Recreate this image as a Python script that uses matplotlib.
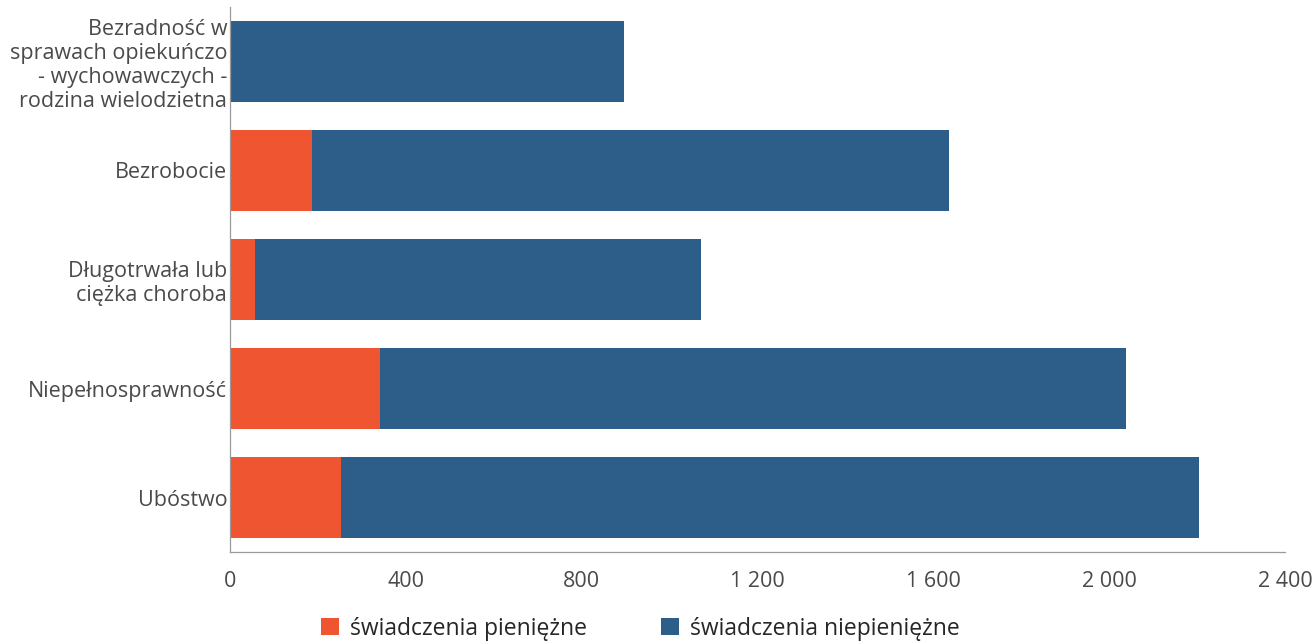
import matplotlib.pyplot as plt
import numpy as np

categories = ["Ubóstwo", "Niepełnosprawność", "Długotrwała lub\nciężka choroba",
              "Bezrobocie", "Bezradność w\nsprawach opiekuńczo\n- wychowawczych -\nrodzina wielodzietna"]
pieniezne = [252, 342, 57, 187, 0]
niepieniezne = [1953, 1697, 1014, 1449, 897]
ticks = [0, 400, 800, 1200, 1600, 2000, 2400]
tick_labels = ["0", "400", "800", "1 200", "1 600", "2 000", "2 400"]

plt.rcParams['font.family'] = ['Open Sans', 'DejaVu Sans']
text_color = "#4a4a4a"
orange = "#ee5530"
blue = "#2d5e8a"

fig = plt.figure(figsize=(13.15, 6.42), dpi=100)
ax = fig.add_axes([230 / 1315, 90 / 642, 1055 / 1315, 545 / 642])

y = np.arange(len(categories))
ax.barh(y, pieniezne, height=0.75, color=orange, label="świadczenia pieniężne")
ax.barh(y, niepieniezne, left=pieniezne, height=0.75, color=blue, label="świadczenia niepieniężne")

ax.set_xlim(0, 2400)
ax.set_ylim(-0.5, 4.5)
ax.set_yticks(y)
ax.set_yticklabels(categories, fontsize=15.5, color=text_color, linespacing=1.2)
ax.set_xticks(ticks)
ax.set_xticklabels(tick_labels, fontsize=15.5, color=text_color)
ax.tick_params(axis="both", length=0)
ax.tick_params(axis="x", pad=14)
ax.tick_params(axis="y", pad=2)
for s in ["top", "right"]:
    ax.spines[s].set_visible(False)
for s in ["left", "bottom"]:
    ax.spines[s].set_color("#9a9a9a")
    ax.spines[s].set_linewidth(0.9)

fig.legend(loc="lower center", bbox_to_anchor=(0.487, -0.03), ncol=2, frameon=False,
           fontsize=16.5, handlelength=0.8, handleheight=0.8, columnspacing=3.2,
           handletextpad=0.5, labelcolor="#262626")

fig.savefig("out.png", dpi=100)
